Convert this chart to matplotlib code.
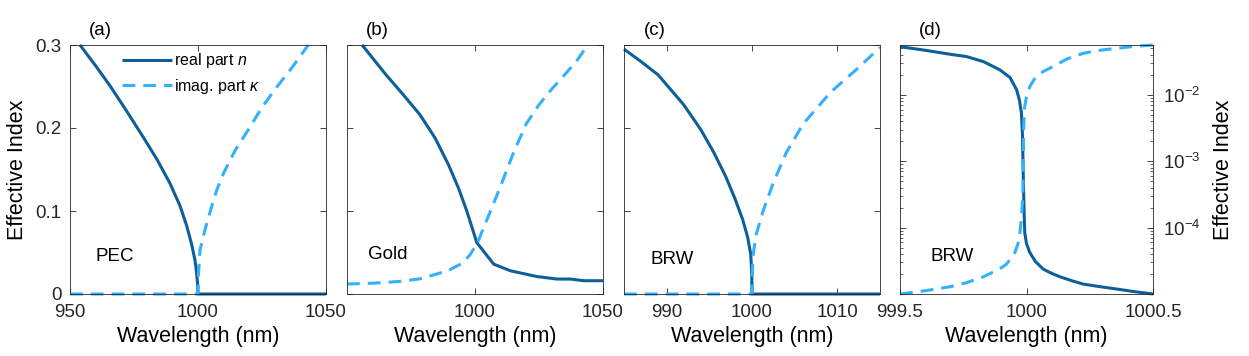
import numpy as np
import matplotlib
matplotlib.use("Agg")
import matplotlib.pyplot as plt
from matplotlib.ticker import LogLocator, NullFormatter, LogFormatterSciNotation

plt.rcParams['font.family'] = ['Liberation Sans', 'DejaVu Sans']
plt.rcParams['mathtext.fontset'] = 'custom'
plt.rcParams['mathtext.rm'] = 'Liberation Sans'
plt.rcParams['mathtext.it'] = 'Liberation Sans:italic'

# colours
C_REAL = '#0E5F99'
C_IMAG = '#33B1FF'

# (a) PEC
wl_a_n = [953.9, 960, 965.6, 972, 978.6, 984, 989.1, 993, 995.6, 997.5, 998.8, 999.4, 999.8, 1000, 1050]
n_a = [0.300, 0.275, 0.251, 0.221, 0.189, 0.162, 0.133, 0.106, 0.082, 0.060, 0.041, 0.027, 0.014, 0.0, 0.0]
wl_a_k = [950, 1000, 1000.2, 1000.8, 1002.7, 1005.3, 1007.3, 1009.9, 1014.5, 1020.3, 1025, 1030.7, 1037, 1043.1]
k_a = [0.0, 0.0, 0.025, 0.053, 0.077, 0.105, 0.125, 0.145, 0.173, 0.201, 0.225, 0.249, 0.274, 0.300]

# (b) Gold
wl_b_n = [955.9, 965, 972, 978.5, 984.4, 989.6, 993.5, 996.8, 1000.7, 1007.3, 1013.8, 1024.2, 1032.1, 1037.3, 1042.5, 1050]
n_b = [0.300, 0.265, 0.240, 0.216, 0.188, 0.156, 0.128, 0.100, 0.062, 0.036, 0.028, 0.021, 0.018, 0.018, 0.016, 0.016]
wl_b_k = [950, 960, 970, 978, 985, 990, 995, 998, 1001, 1005, 1010, 1015, 1020, 1025, 1030, 1035, 1040, 1044]
k_b = [0.012, 0.013, 0.015, 0.018, 0.024, 0.029, 0.037, 0.047, 0.062, 0.092, 0.130, 0.170, 0.205, 0.228, 0.247, 0.264, 0.282, 0.300]

# (c) BRW, linear
wl_c_n = [985, 987, 989, 990, 992, 994, 995.5, 996.9, 998, 998.9, 999.5, 999.85, 999.97, 1000, 1015]
n_c = [0.295, 0.280, 0.264, 0.252, 0.228, 0.198, 0.171, 0.142, 0.115, 0.090, 0.068, 0.048, 0.026, 0.0, 0.0]
wl_c_k = [985, 1000, 1000.05, 1000.1, 1000.5, 1001.3, 1002.5, 1004, 1006, 1009.2, 1012.4, 1015]
k_c = [0.0, 0.0, 0.025, 0.045, 0.072, 0.100, 0.134, 0.170, 0.205, 0.243, 0.272, 0.297]

# (d) BRW, log scale
wl_d_n = [999.5, 999.6, 999.7, 999.763, 999.83, 999.895, 999.935, 999.961, 999.972, 999.98, 999.984,
          999.987, 999.99, 999.993, 1000.0, 1000.013, 1000.035, 1000.066, 1000.1, 1000.132, 1000.18,
          1000.224, 1000.29, 1000.355, 1000.43, 1000.5]
n_d = [5.31e-2, 4.68e-2, 4.07e-2, 3.76e-2, 3.16e-2, 2.37e-2, 1.82e-2, 1.19e-2, 8.32e-3, 5.31e-3, 2.51e-3,
       6.68e-4, 2.0e-4, 8.41e-5, 5.75e-5, 4.22e-5, 3.09e-5, 2.37e-5, 2.04e-5, 1.82e-5, 1.58e-5,
       1.41e-5, 1.29e-5, 1.19e-5, 1.08e-5, 1.0e-5]
wl_d_k = [999.5, 999.6, 999.7, 999.763, 999.83, 999.895, 999.921, 999.954, 999.966, 999.974, 999.98,
          999.985, 999.987, 999.988, 999.989, 999.993, 1000.0, 1000.013, 1000.035, 1000.066, 1000.105,
          1000.16, 1000.224, 1000.29, 1000.355, 1000.43, 1000.5]
k_d = [1.0e-5, 1.12e-5, 1.29e-5, 1.48e-5, 1.82e-5, 2.4e-5, 2.82e-5, 4.22e-5, 5.62e-5, 8.41e-5, 1.41e-4,
       2.82e-4, 6.31e-4, 1.58e-3, 3.55e-3, 6.68e-3, 9.33e-3, 1.33e-2, 1.82e-2, 2.24e-2, 2.66e-2,
       3.47e-2, 4.22e-2, 4.68e-2, 5.01e-2, 5.37e-2, 5.62e-2]

panels = ['(a)', '(b)', '(c)', '(d)']
materials = ['PEC', 'Gold', 'BRW', 'BRW']
xlims = [(950, 1050), (950, 1050), (985, 1015), (999.5, 1000.5)]
xticks = [[950, 1000, 1050], [1000, 1050], [990, 1000, 1010], [999.5, 1000, 1000.5]]
xticklabels = [['950', '1000', '1050'], ['1000', '1050'], ['990', '1000', '1010'], ['999.5', '1000', '1000.5']]

data = [(wl_a_n, n_a, wl_a_k, k_a), (wl_b_n, n_b, wl_b_k, k_b),
        (wl_c_n, n_c, wl_c_k, k_c), (wl_d_n, n_d, wl_d_k, k_d)]

fig = plt.figure(figsize=(12.49, 3.56), dpi=100)
lefts = [70, 347, 624, 900]
W, H = 1249, 356
axes = []
for i, l in enumerate(lefts):
    w = 256 if i < 3 else 253
    ax = fig.add_axes([l / W, 1 - 294 / H, w / W, 249 / H])
    axes.append(ax)

for i, ax in enumerate(axes):
    wn, n, wk, k = data[i]
    ax.plot(wn, n, color=C_REAL, lw=2.2, clip_on=False, label='real part $n$', solid_capstyle='butt')
    ax.plot(wk, k, color=C_IMAG, lw=2.2, ls=(0, (4.2, 2.6)), clip_on=False, label=r'imag. part $\kappa$')
    ax.set_xlim(*xlims[i])
    ax.set_xticks(xticks[i])
    ax.set_xticklabels(xticklabels[i])
    ax.set_xlabel('Wavelength (nm)', fontsize=15.5, labelpad=4)
    for s in ax.spines.values():
        s.set_color('#262626')
        s.set_linewidth(0.6)
    ax.tick_params(direction='in', top=True, right=True, labelsize=13.5, length=4, width=0.6,
                   colors='#262626', pad=7)
    ax.tick_params(which='minor', direction='in', length=2.5, width=0.5, colors='#262626')
    ax.text(0.12, 1.06, panels[i], transform=ax.transAxes, ha='center', va='center', fontsize=13.5)
    if i < 3:
        ax.set_ylim(0, 0.3)
        ax.set_yticks([0, 0.1, 0.2, 0.3])
        if i == 0:
            ax.set_yticklabels(['0', '0.1', '0.2', '0.3'])
            ax.set_ylabel('Effective Index', fontsize=15.5, labelpad=5)
            ax.tick_params(axis='y', pad=6)
        else:
            ax.set_yticklabels([])

mat_pos = [(0.098, 0.149), (0.082, 0.157), (0.102, 0.137), (0.119, 0.149)]
for i, ax in enumerate(axes):
    ax.text(mat_pos[i][0], mat_pos[i][1], materials[i], transform=ax.transAxes,
            ha='left', va='center', fontsize=13.5)

axd = axes[3]
axd.set_yscale('log')
axd.set_ylim(1e-5, 10 ** -1.25)
axd.set_yticks([1e-4, 1e-3, 1e-2])
axd.yaxis.set_major_formatter(LogFormatterSciNotation())
axd.yaxis.set_minor_locator(LogLocator(base=10, subs=np.arange(2, 10)))
axd.yaxis.set_minor_formatter(NullFormatter())
axd.yaxis.tick_right()
axd.yaxis.set_label_position('right')
axd.tick_params(which='both', left=True, right=True, labelleft=False, labelright=True)
axd.tick_params(axis='y', pad=7)
axd.set_ylabel('Effective Index', fontsize=15.5, labelpad=9)

axes[0].legend(loc='upper left', bbox_to_anchor=(0.205, 0.975), frameon=False, fontsize=11.5,
               handlelength=3.1, handletextpad=0.15, borderpad=0, borderaxespad=0, labelspacing=0.4)

fig.savefig('out.png', dpi=100)
